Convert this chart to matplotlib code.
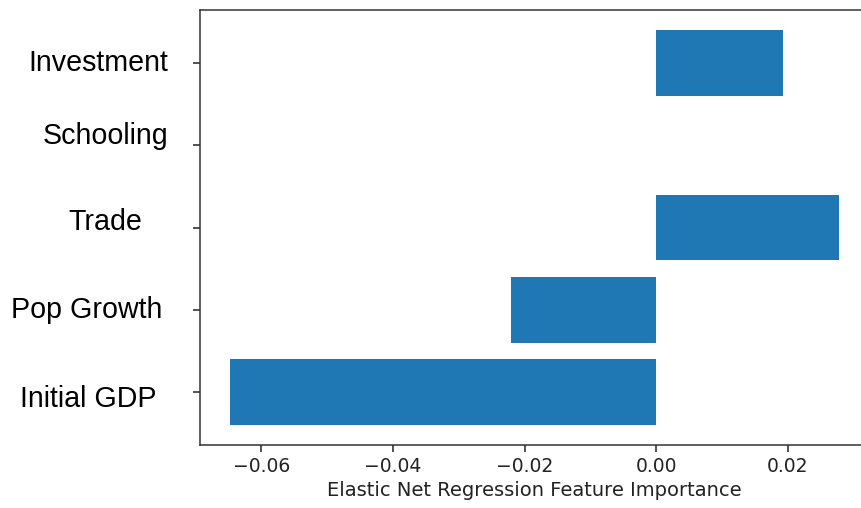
import matplotlib.pyplot as plt

# feature importances (bottom to top)
features = ['Initial GDP', 'Pop Growth', 'Trade', 'Schooling', 'Investment']
importance = [-0.0647, -0.0220, 0.0277, 0.0, 0.0192]

# y-label placement in pixels (right edge, centre y) -- labels were set by hand
LABEL_POS = [(156, 399), (162, 310), (142, 222), (168, 136), (168, 63)]

W, H = 861, 508
fig = plt.figure(figsize=(W / 100, H / 100), dpi=100)
ax = fig.add_axes([200 / W, 1 - 445 / H, 669 / W, 435 / H])

ax.barh(range(len(features)), importance, height=0.8, color='#1f77b4')

ax.set_yticks(range(len(features)))
ax.set_yticklabels([''] * len(features))
ax.set_xticks([-0.06, -0.04, -0.02, 0.00, 0.02])
ax.set_xticklabels(['\u22120.06', '\u22120.04', '\u22120.02', '0.00', '0.02'])
ax.tick_params(axis='both', length=5, width=1.1, labelsize=13.5, colors='#222222')
ax.set_xlabel('Elastic Net Regression Feature Importance', fontsize=14,
              color='#222222', labelpad=4)
for s in ax.spines.values():
    s.set_linewidth(1.1)
    s.set_color('#333333')

for name, (px, py) in zip(features, LABEL_POS):
    fig.text(px / W, 1 - py / H, name, ha='right', va='center',
             fontsize=20.6, family='Liberation Sans')

plt.savefig('out.png', dpi=100)
